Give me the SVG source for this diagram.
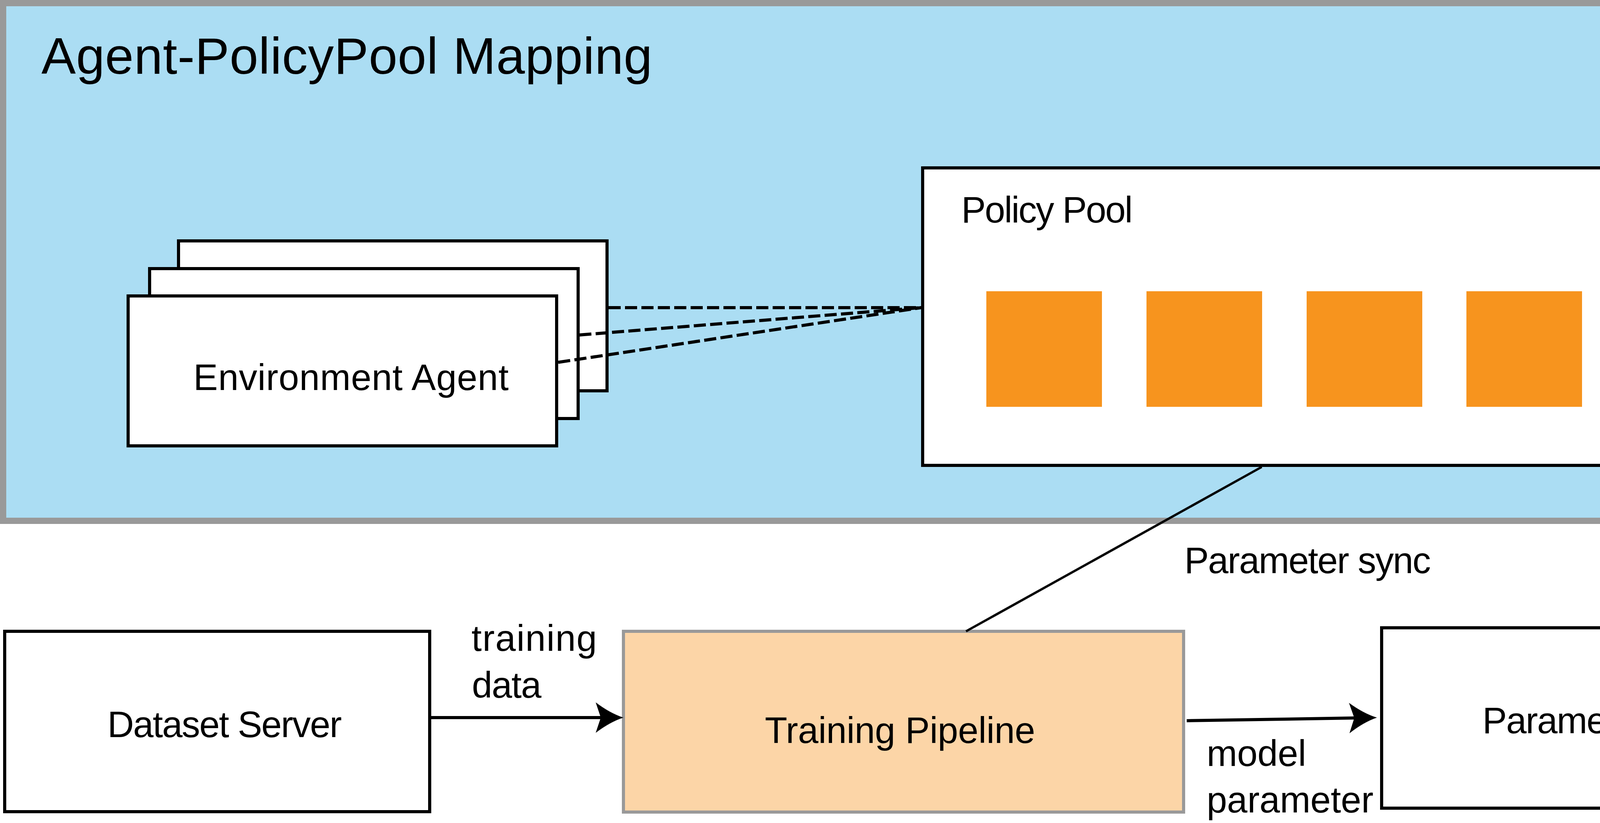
<svg xmlns="http://www.w3.org/2000/svg" width="4772" height="2108" viewBox="0 0 4772 2108">
  <style>
    .lbl { font-family: "Liberation Sans", Arial, sans-serif; font-size: 94px; fill: #000; }
    .title { font-family: "Liberation Sans", Arial, sans-serif; font-size: 132px; fill: #000; }
    .box { fill: #fff; stroke: #000; stroke-width: 8; }
    .sq { fill: #F7941E; }
    .dash { fill: none; stroke: #000; stroke-width: 8; stroke-dasharray: 31 11; }
    .conn { fill: none; stroke: #000; }
  </style>
  <defs>
    <marker id="arrow" markerUnits="userSpaceOnUse" viewBox="-76 -42 80 84" refX="-58" refY="0" markerWidth="80" markerHeight="84" orient="auto">
      <path d="M0,0 Q-34,-11 -71,-39 L-58,0 L-71,39 Q-34,11 0,0 Z" fill="#000"/>
    </marker>
  </defs>
  <rect x="0" y="0" width="4772" height="2108" fill="#fff"/>

  <g id="agent-policypool-mapping">
    <rect x="8" y="8" width="4756" height="1326" fill="#ABDDF3" stroke="#999999" stroke-width="16"/>
    <text class="title" x="106" y="189" textLength="1564">Agent-PolicyPool Mapping</text>
  </g>

  <g id="environment-agent">
    <rect class="box" x="457" y="617" width="1097" height="384"/>
    <rect class="box" x="383" y="688" width="1097" height="384"/>
    <rect class="box" x="328" y="758" width="1097" height="384"/>
    <text class="lbl" x="495" y="999" textLength="807">Environment Agent</text>
  </g>

  <g id="policy-pool">
    <rect class="box" x="2362" y="430" width="1796" height="762"/>
    <text class="lbl" x="2461" y="570" textLength="439">Policy Pool</text>
    <rect class="sq" x="2525" y="746" width="296" height="296"/>
    <rect class="sq" x="2935" y="746" width="296" height="296"/>
    <rect class="sq" x="3345" y="746" width="296" height="296"/>
    <rect class="sq" x="3754" y="746" width="296" height="296"/>
  </g>

  <g id="dataset-server">
    <rect class="box" x="12" y="1617" width="1088" height="462"/>
    <text class="lbl" x="275" y="1888" textLength="600">Dataset Server</text>
  </g>

  <g id="training-pipeline">
    <rect x="1596" y="1617" width="1434" height="463" fill="#FCD5A7" stroke="#999999" stroke-width="8"/>
    <text class="lbl" x="1958" y="1903" textLength="692">Training Pipeline</text>
  </g>

  <g id="parameter-server">
    <rect class="box" x="3537" y="1608" width="1225" height="462" stroke-width="9"/>
    <text class="lbl" x="3795" y="1878" textLength="711">Parameter Server</text>
  </g>

  <g id="connectors">
    <line class="dash" x1="1558" y1="788" x2="2358" y2="788"/>
    <line class="dash" x1="1483" y1="858" x2="2358" y2="788"/>
    <line class="dash" x1="1429" y1="928" x2="2358" y2="788"/>
    <line class="conn" stroke-width="6" x1="3230" y1="1196" x2="2473" y2="1617"/>
    <line class="conn" stroke-width="8" x1="1104" y1="1838" x2="1538" y2="1838" marker-end="url(#arrow)"/>
    <line class="conn" stroke-width="8" x1="3038" y1="1846" x2="3467" y2="1839" marker-end="url(#arrow)"/>
  </g>

  <g id="connector-labels">
    <text class="lbl" x="3032" y="1468" textLength="631">Parameter sync</text>
    <text class="lbl" x="1207" y="1667" textLength="321">training</text>
    <text class="lbl" x="1208" y="1787" textLength="178">data</text>
    <text class="lbl" x="3089" y="1962" textLength="255">model</text>
    <text class="lbl" x="3089" y="2081" textLength="427">parameter</text>
  </g>
</svg>
